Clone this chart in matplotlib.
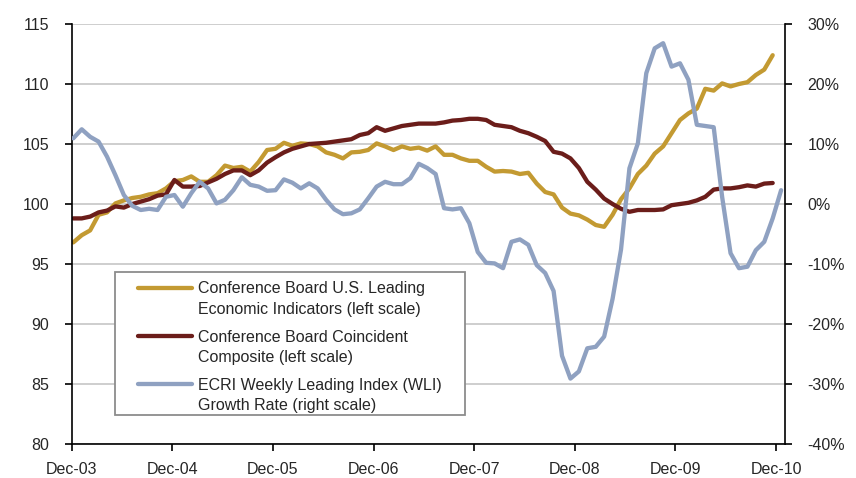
import numpy as np
import matplotlib
matplotlib.use('Agg')
import matplotlib.pyplot as plt
from matplotlib.patches import Rectangle
from matplotlib.legend_handler import HandlerLine2D
from matplotlib.ticker import FuncFormatter

tick_labels = ['Dec-03', 'Dec-04', 'Dec-05', 'Dec-06', 'Dec-07', 'Dec-08', 'Dec-09', 'Dec-10']

lei = [96.8, 97.4, 97.8, 99.1, 99.3, 100.05, 100.3, 100.5, 100.6, 100.8,
       100.9, 101.3, 101.9, 102.0, 102.3, 101.85, 101.85, 102.4, 103.2, 103.0,
       103.1, 102.7, 103.5, 104.5, 104.6, 105.1, 104.85, 105.05, 105.0, 104.8,
       104.3, 104.1, 103.8, 104.3, 104.35, 104.5, 105.05, 104.8, 104.5, 104.8,
       104.6, 104.7, 104.45, 104.8, 104.1, 104.1, 103.8, 103.6, 103.6, 103.1,
       102.7, 102.75, 102.7, 102.5, 102.6, 101.7, 101.0, 100.8, 99.7, 99.2,
       99.05, 98.7, 98.25, 98.1, 99.1, 100.4, 101.3, 102.5, 103.2, 104.2,
       104.8, 105.9, 107.0, 107.55, 107.95, 109.6, 109.45, 110.05, 109.8, 110.0,
       110.15, 110.75, 111.2, 112.4]

coincident = [98.8, 98.8, 98.95, 99.3, 99.45, 99.8, 99.7, 100.0, 100.2, 100.4,
              100.7, 100.8, 102.0, 101.45, 101.45, 101.5, 101.8, 102.1, 102.5, 102.8,
              102.8, 102.4, 102.8, 103.45, 103.9, 104.3, 104.6, 104.8, 105.0, 105.05,
              105.1, 105.2, 105.3, 105.4, 105.75, 105.9, 106.4, 106.1, 106.3, 106.5,
              106.6, 106.7, 106.7, 106.7, 106.8, 106.95, 107.0, 107.1, 107.1, 107.0,
              106.6, 106.5, 106.4, 106.1, 105.9, 105.6, 105.25, 104.35, 104.2, 103.8,
              103.0, 101.85, 101.2, 100.45, 100.0, 99.6, 99.35, 99.5, 99.5, 99.5,
              99.55, 99.9, 100.0, 100.1, 100.3, 100.6, 101.2, 101.3, 101.3, 101.4,
              101.55, 101.45, 101.7, 101.75]

wli_growth = [10.95, 12.45, 11.2, 10.4, 7.9, 4.8, 1.5, -0.3, -1.0, -0.8,
              -1.0, 1.2, 1.5, -0.45, 1.8, 3.7, 2.6, 0.1, 0.7, 2.3,
              4.45, 3.2, 2.9, 2.2, 2.3, 4.1, 3.55, 2.6, 3.45, 2.6,
              0.7, -0.9, -1.7, -1.55, -0.9, 0.95, 2.9, 3.7, 3.3, 3.3,
              4.3, 6.7, 6.0, 5.0, -0.7, -0.9, -0.7, -3.2, -8.0, -9.8,
              -9.9, -10.7, -6.3, -5.9, -6.8, -10.2, -11.5, -14.5, -25.3, -29.1,
              -27.9, -24.05, -23.8, -22.1, -15.8, -7.6, 5.95, 10.1, 21.8, 25.95,
              26.8, 22.9, 23.45, 20.7, 13.2, 13.0, 12.8, 1.2, -8.2, -10.7,
              -10.45, -7.7, -6.3, -2.4, 2.3]

labels = ['Conference Board U.S. Leading\nEconomic Indicators (left scale)',
          'Conference Board Coincident\nComposite (left scale)',
          'ECRI Weekly Leading Index (WLI)\nGrowth Rate (right scale)']

c_gold = '#C39A32'
c_brown = '#6B1D1A'
c_blue = '#8FA1C1'
txt = '#262626'

plt.rcParams['font.family'] = ['Liberation Sans', 'DejaVu Sans']
fs = 11.5

fig = plt.figure(figsize=(8.56, 4.78), dpi=100)
ax = fig.add_axes([71.7 / 856, 1 - 444 / 478, 713.6 / 856, 420 / 478])
ax2 = ax.twinx()

x_b = np.linspace(0.19, 84.6, len(wli_growth))
x_l = x_b[:len(lei)]

l1, = ax.plot(x_l, lei, color=c_gold, lw=3.1, solid_joinstyle='round', solid_capstyle='round')
l2, = ax.plot(x_l, coincident, color=c_brown, lw=3.1, solid_joinstyle='round', solid_capstyle='round')
l3, = ax2.plot(x_b, wli_growth, color=c_blue, lw=3.1, solid_joinstyle='round', solid_capstyle='round')

ax.set_xlim(0, 85.1)
ax.set_ylim(80, 115)
ax2.set_ylim(-40, 30)
ax.set_yticks(np.arange(80, 116, 5))
ax2.set_yticks(np.arange(-40, 31, 10))
ax2.yaxis.set_major_formatter(FuncFormatter(lambda v, p: f'{int(round(v))}%'))
ax.set_xticks(np.arange(0, 85, 12))
ax.set_xticklabels(tick_labels)

ax.grid(axis='y', color='#C6C6C6', lw=1.2)
ax.set_axisbelow(True)

for a in (ax, ax2):
    a.spines['top'].set_visible(False)
    for s in ('left', 'right', 'bottom'):
        a.spines[s].set_linewidth(1.2)
        a.spines[s].set_color('black')
ax.spines['right'].set_visible(False)
ax2.spines['left'].set_visible(False)
ax2.spines['bottom'].set_visible(False)

ax.tick_params(axis='y', direction='out', length=5, width=1.2, labelsize=fs, labelcolor=txt, pad=11)
ax.tick_params(axis='x', direction='out', length=5, width=1.2, labelsize=fs, labelcolor=txt, pad=8)
ax2.tick_params(axis='y', direction='out', length=5, width=1.2, labelsize=fs, labelcolor=txt, pad=11)


class TopLine(HandlerLine2D):
    def __init__(self, dy, **kw):
        super().__init__(**kw)
        self.dy = dy

    def create_artists(self, legend, orig_handle, xdescent, ydescent, width, height, fontsize, trans):
        return super().create_artists(legend, orig_handle, xdescent, ydescent - 2 * self.dy * fontsize,
                                      width, height, fontsize, trans)


ax2.add_patch(Rectangle((0.0607, 0.069), 0.4905, 0.3405, transform=ax2.transAxes,
                        fill=True, facecolor='white', edgecolor='#8C8C8C', lw=1.3, zorder=5))
h = TopLine(0.72)
leg = ax2.legend([l1, l2, l3], labels, loc='upper left', bbox_to_anchor=(0.0929, 0.387),
                 frameon=False, fontsize=fs, handlelength=3.4, handletextpad=0.35,
                 labelspacing=0.8, borderpad=0, borderaxespad=0,
                 handler_map={l1: h, l2: h, l3: h})
leg.set_zorder(6)
for t in leg.get_texts():
    t.set_color(txt)
    t.set_linespacing(1.45)

fig.savefig('out.png', dpi=100)
